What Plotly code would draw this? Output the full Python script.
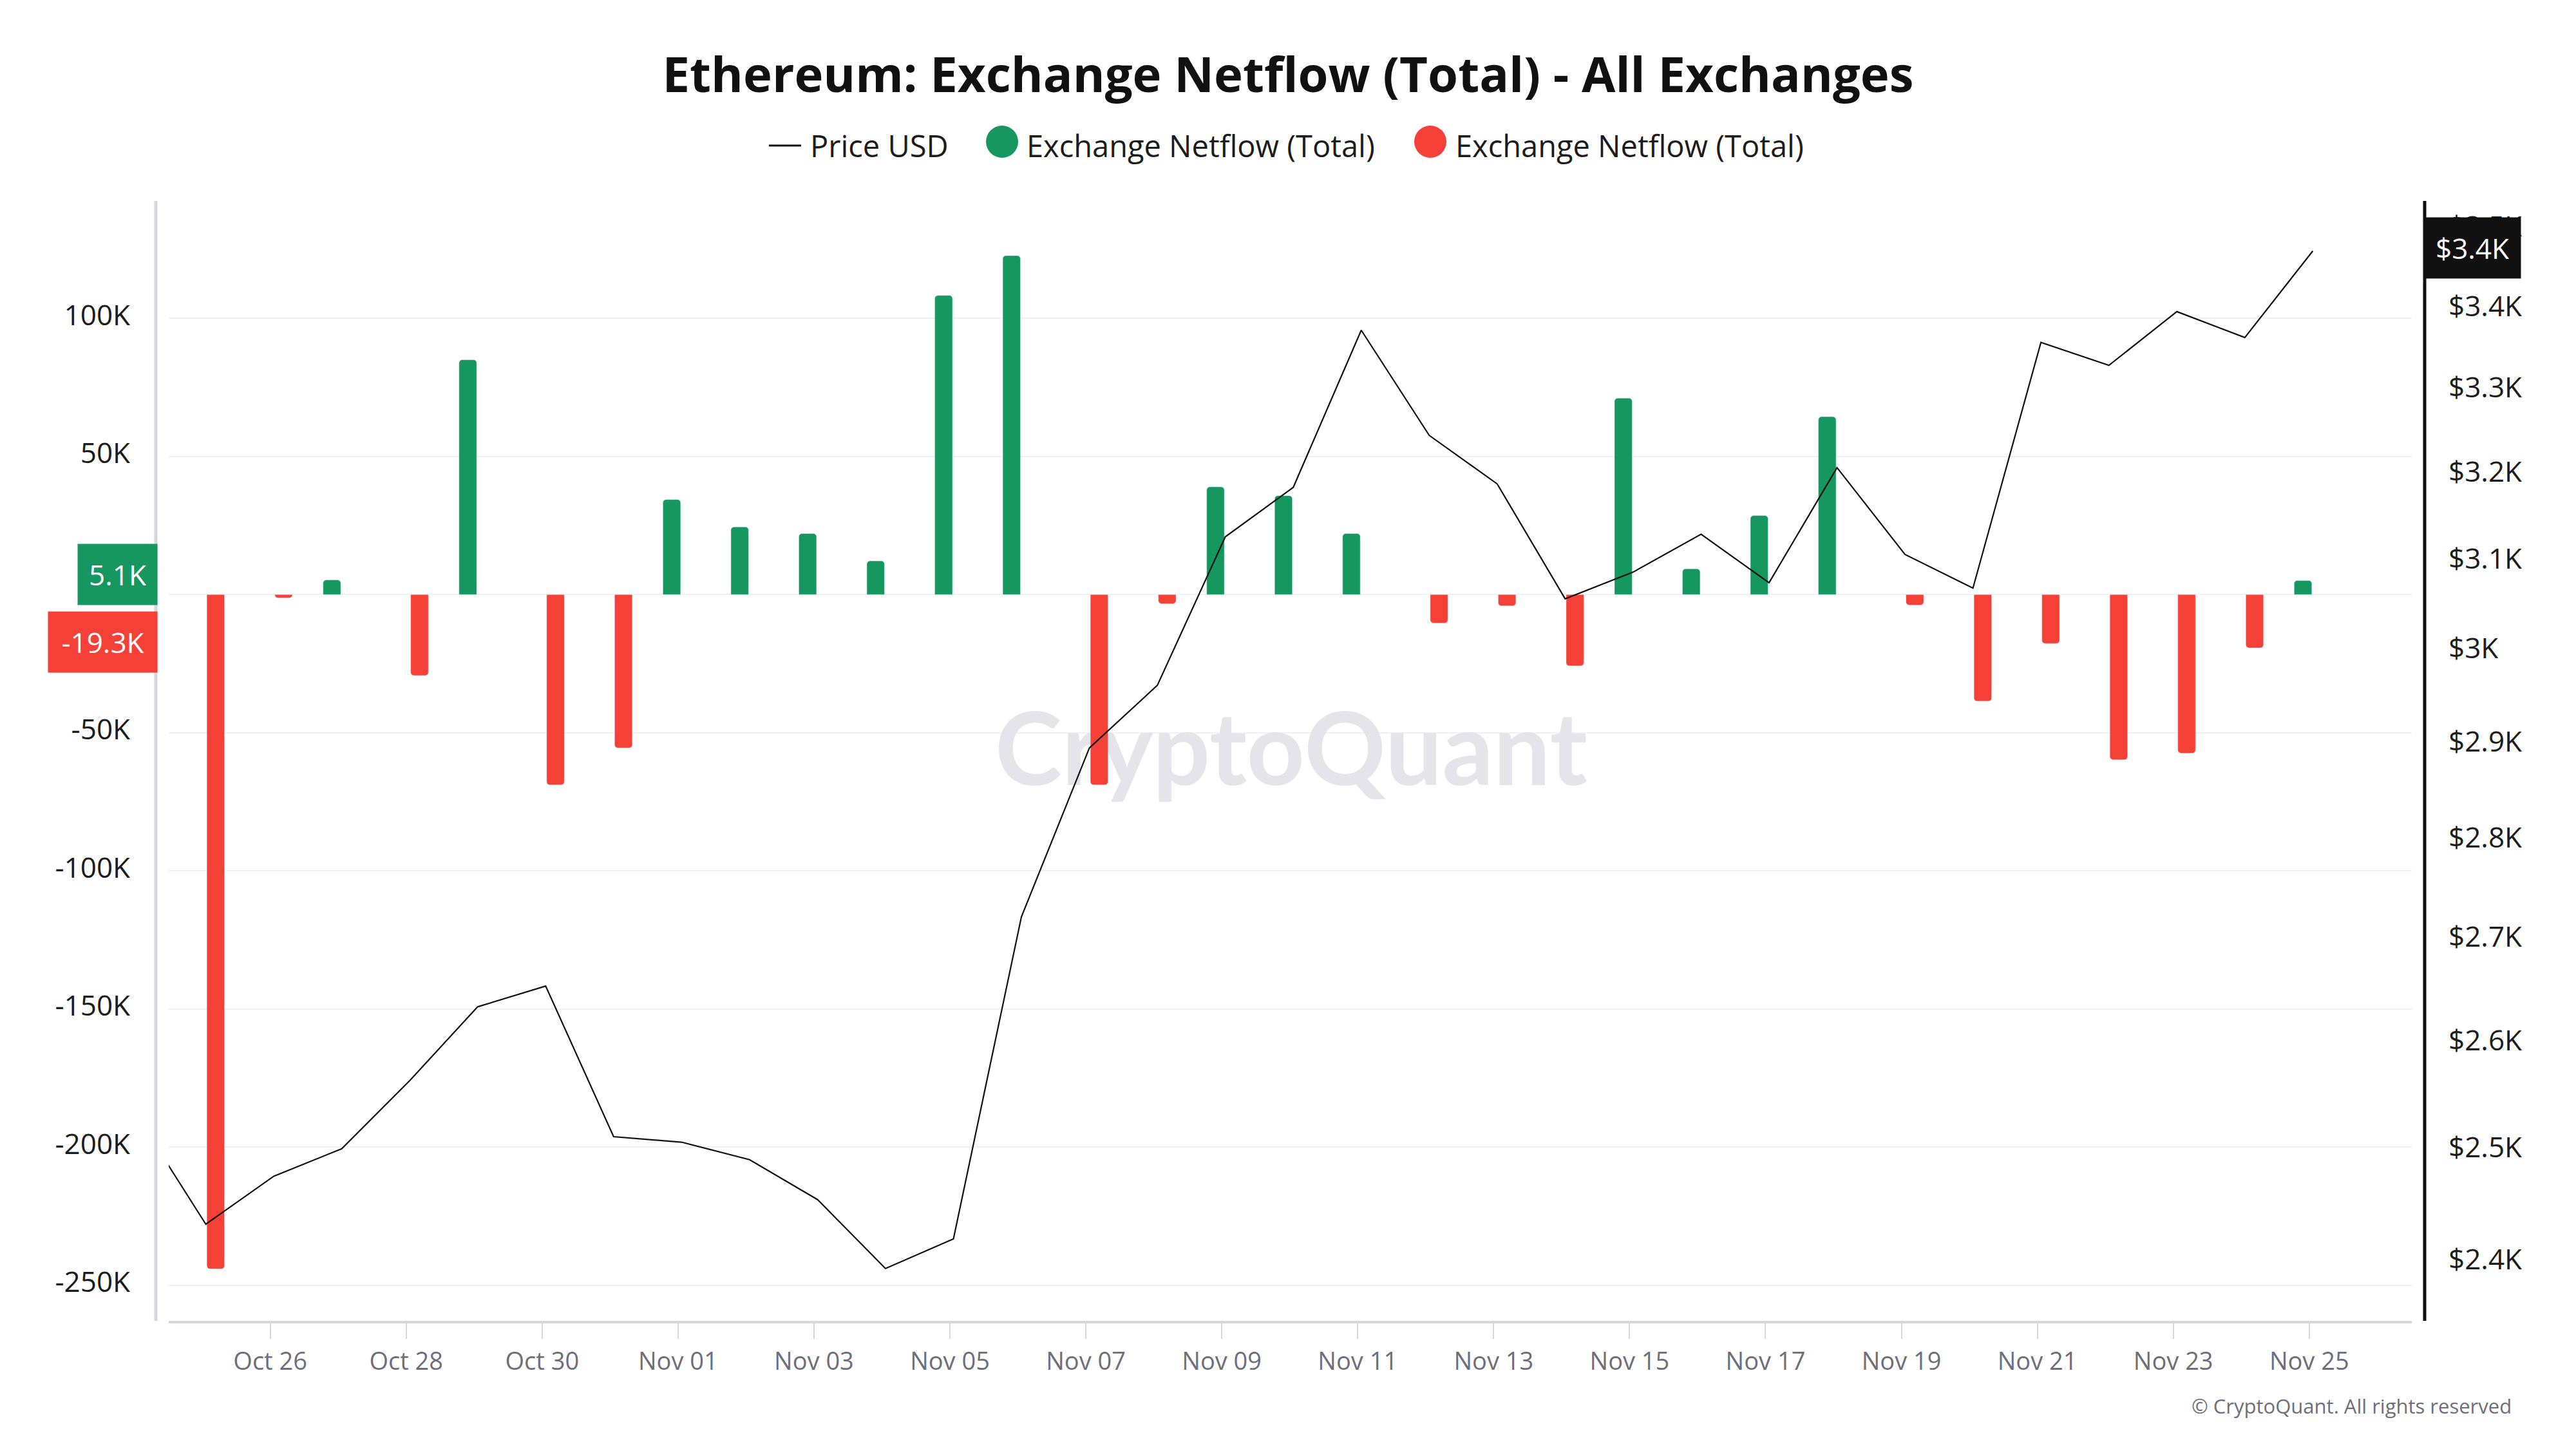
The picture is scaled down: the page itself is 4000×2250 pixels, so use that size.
import math
import pandas as pd
import plotly.graph_objects as go

# ---------------- data ----------------
DATES = pd.date_range("2024-10-24", "2024-11-25", freq="D")
PRICE_USD = [2528, 2431, 2474, 2499, 2562, 2632, 2652, 2510, 2505, 2489, 2453,
             2392, 2418, 2720, 2893, 2960, 3125, 3182, 3370, 3243, 3186, 3055,
             3085, 3128, 3073, 3205, 3105, 3067, 3355, 3327, 3393, 3361, 3469]
NETFLOW = [None, -244100, -1200, 5300, -29300, 85000, -68900, -55500, 34400,
           24500, 22100, 12200, 108300, 122700, -68900, -3300, 39000, 35800,
           22100, -10300, -4100, -25800, 71100, 9300, 28600, 64400, -3800,
           -38600, -17700, -59800, -57400, -19300, 5100]
LEFT_TICKS = [-250000, -200000, -150000, -100000, -50000, 50000, 100000]
RIGHT_TICKS = [2400, 2500, 2600, 2700, 2800, 2900, 3000, 3100, 3200, 3300, 3400, 3500]
X_TICK_START = "2024-10-26"

TITLE = "Ethereum: Exchange Netflow (Total) - All Exchanges"
SERIES_PRICE = "Price USD"
SERIES_FLOW = "Exchange Netflow (Total)"
WATERMARK = "CryptoQuant"
COPYRIGHT = "© CryptoQuant. All rights reserved"

# ---------------- style ----------------
W, H = 4000, 2250
ML, MR, MT, MB = 262, 255, 312, 199
PW, PH = W - ML - MR, H - MT - MB
GREEN = "#15975F"
RED = "#F44036"
FONT = "Open Sans"
Y_LEFT_RANGE = [-262900, 142500]
Y_RIGHT_RANGE = [2346.7, 3533]
TIME_OFFSET = pd.Timedelta(hours=1.25)

x = DATES + TIME_OFFSET
x_lo = x[1] - pd.Timedelta(days=0.5458)
x_hi = x[-1] + pd.Timedelta(days=1.4565)

green = [v if (v is not None and v > 0) else None for v in NETFLOW]
red = [v if (v is not None and v < 0) else None for v in NETFLOW]


def px_x(p):
    return (p - ML) / PW


def px_y(p):
    return (H - MB - p) / PH


fig = go.Figure()

# watermark on main subplot (drawn underneath bars and line)
wm_x = x_lo + (x_hi - x_lo) * px_x(2005)
wm_y = Y_LEFT_RANGE[0] + (Y_LEFT_RANGE[1] - Y_LEFT_RANGE[0]) * px_y(1180)
fig.add_trace(go.Scatter(
    x=[wm_x], y=[wm_y], mode="text", text=[WATERMARK],
    textfont=dict(family="Lato", size=157, color="#E4E4EA", weight=700),
    hoverinfo="skip", showlegend=False, yaxis="y"))

fig.add_trace(go.Bar(x=x, y=green, name=SERIES_FLOW, marker=dict(color=GREEN, cornerradius=5),
                     yaxis="y2", showlegend=False))
fig.add_trace(go.Bar(x=x, y=red, name=SERIES_FLOW, marker=dict(color=RED, cornerradius=5),
                     yaxis="y2", showlegend=False))
fig.add_trace(go.Scatter(x=x, y=PRICE_USD, name=SERIES_PRICE, mode="lines",
                         line=dict(color="#111111", width=2.2), yaxis="y3", showlegend=False))

left_text = [f"{v // 1000}K" for v in LEFT_TICKS]
right_text = [f"${v / 1000:g}K" for v in RIGHT_TICKS]

fig.update_layout(
    width=W, height=H,
    margin=dict(l=ML, r=MR, t=MT, b=MB, autoexpand=False),
    paper_bgcolor="white", plot_bgcolor="white",
    font=dict(family=FONT, color="#1c1c1c"),
    barmode="group", bargap=0.422, bargroupgap=0.1,
    showlegend=False,
    title=dict(text=TITLE, x=0.5, xref="container", xanchor="center",
               y=1 - 116 / H, yref="container", yanchor="middle",
               font=dict(family=FONT, size=76, color="#111111", weight=700)),
    xaxis=dict(type="date", range=[x_lo, x_hi], tick0=X_TICK_START, dtick=2 * 86400000,
               tickformat="%b %d", showgrid=False, zeroline=False,
               showline=True, linecolor="#D6D6DF", linewidth=4,
               ticks="outside", ticklen=24, tickwidth=2, tickcolor="#D6D6DF",
               ticklabelstandoff=2,
               tickfont=dict(family=FONT, size=38, color="#6E6E7A")),
    yaxis=dict(range=Y_LEFT_RANGE, tickvals=LEFT_TICKS, ticktext=left_text,
               showgrid=True, gridcolor="#F1F1F4", gridwidth=2,
               zeroline=True, zerolinecolor="#F1F1F4", zerolinewidth=2,
               showline=False, ticks="", ticklabelstandoff=59, ticklabelshift=-5,
               tickfont=dict(family=FONT, size=44, color="#1c1c1c")),
    yaxis2=dict(range=Y_LEFT_RANGE, overlaying="y", visible=False),
    yaxis3=dict(type="log", range=[math.log10(Y_RIGHT_RANGE[0]), math.log10(Y_RIGHT_RANGE[1])],
                overlaying="y", side="right", tickvals=RIGHT_TICKS, ticktext=right_text,
                showgrid=False, zeroline=False, showline=False, ticks="",
                ticklabelstandoff=56,
                tickfont=dict(family=FONT, size=44, color="#1c1c1c")),
)

# axis lines offset from plot area
fig.add_shape(type="line", xref="paper", yref="paper", x0=px_x(242), x1=px_x(242), y0=0, y1=1,
              line=dict(color="#D6D6DF", width=5), layer="above")
fig.add_shape(type="line", xref="paper", yref="paper", x0=px_x(3765), x1=px_x(3765), y0=0, y1=1,
              line=dict(color="#111111", width=5), layer="above")

# manual legend
LEG_Y = 226
fig.add_shape(type="line", xref="paper", yref="paper", x0=px_x(1194), x1=px_x(1244),
              y0=px_y(LEG_Y), y1=px_y(LEG_Y), line=dict(color="#111111", width=3))
for cx, col in [(1556, GREEN), (2221, RED)]:
    fig.add_shape(type="circle", xref="paper", yref="paper",
                  x0=px_x(cx - 25), x1=px_x(cx + 25), y0=px_y(LEG_Y - 6 + 25), y1=px_y(LEG_Y - 6 - 25),
                  fillcolor=col, line=dict(width=0))
for lx, txt in [(1256, SERIES_PRICE), (1592, SERIES_FLOW), (2258, SERIES_FLOW)]:
    fig.add_annotation(text=txt, xref="paper", yref="paper", x=px_x(lx), y=px_y(LEG_Y),
                       xanchor="left", yanchor="middle", showarrow=False,
                       font=dict(family=FONT, size=47, color="#1c1c1c"))

# last-value badges
last_green = NETFLOW[-1]
last_red = [v for v in NETFLOW if v is not None and v < 0][-1]
last_price = PRICE_USD[-1]
fig.add_annotation(text=f"{last_green / 1000:.1f}K", xref="paper", yref="y", x=px_x(245), y=last_green,
                   xanchor="right", yanchor="middle", yshift=9, showarrow=False,
                   bgcolor=GREEN, width=123, height=94, borderpad=0,
                   font=dict(family=FONT, size=44, color="white"))
fig.add_annotation(text=f"{last_red / 1000:.1f}K", xref="paper", yref="y", x=px_x(245), y=last_red,
                   xanchor="right", yanchor="middle", yshift=9, showarrow=False,
                   bgcolor=RED, width=169, height=94, borderpad=0,
                   font=dict(family=FONT, size=44, color="white"))
fig.add_annotation(text=f"${math.floor(last_price / 100) / 10:g}K", xref="paper", yref="y3",
                   x=px_x(3763), y=math.log10(last_price),
                   xanchor="left", yanchor="middle", yshift=5, showarrow=False,
                   bgcolor="#111111", width=150, height=94, borderpad=0,
                   font=dict(family=FONT, size=44, color="white"))

fig.add_annotation(text=COPYRIGHT, xref="paper", yref="paper", x=px_x(3902), y=px_y(2183),
                   xanchor="right", yanchor="middle", showarrow=False,
                   font=dict(family=FONT, size=31, color="#6E6E7A"))

fig.write_html("out.html", config={"displayModeBar": False},
               post_script="document.body.style.margin='0px';")
